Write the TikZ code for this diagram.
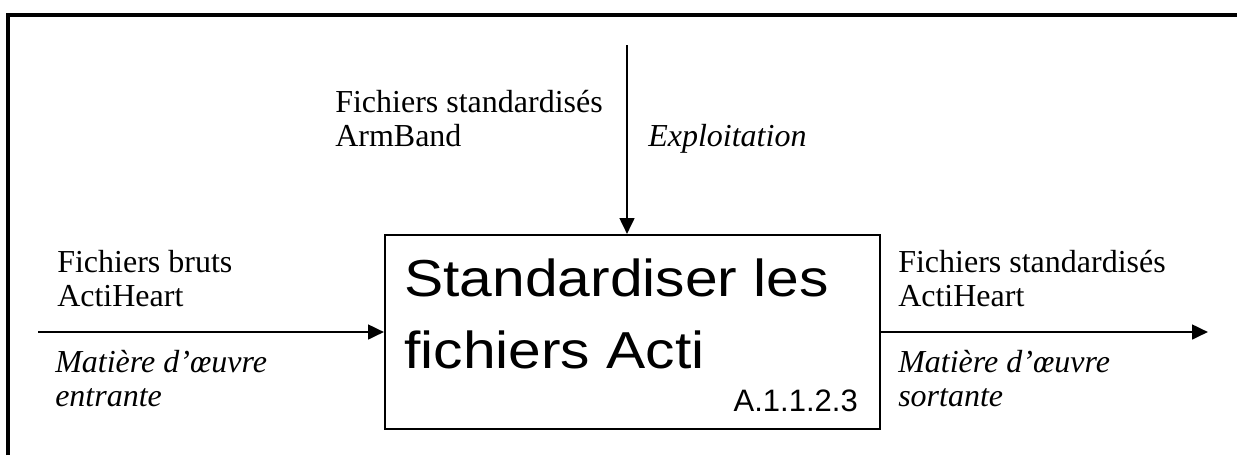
\documentclass[tikz,border=0pt]{standalone}
\usepackage{fontspec}
\setmainfont{Liberation Serif}
\newfontfamily\bigsans[FakeStretch=1.13]{Liberation Sans}
\newfontfamily\smallsans{Liberation Sans}
\usetikzlibrary{arrows.meta}
\usetikzlibrary{positioning}

\begin{document}
\begin{tikzpicture}[
    x=0.75pt, y=-0.75pt,
    frame/.style={line width=2.3pt}, % Style for the outer frame
    flow/.style={line width=2pt, -{Triangle[length=12pt, width=11pt]}}, % Style for the arrows
    proc/.style={draw, line width=1.5pt, minimum width=371.25pt, minimum height=145.5pt, inner sep=0pt}, % Style for the activity box
    lbl/.style={anchor=base west, align=left, inner sep=0pt, font=\fontsize{24pt}{25.5pt}\selectfont}, % Style for the arrow labels
    role/.style={lbl, font=\fontsize{24pt}{25.5pt}\selectfont\itshape} % Style for the italic roles
]
\useasboundingbox (0,0) rectangle (1237,455);

% Frame
\draw[frame] (8,455) -- (8,15) -- (1237,15);

% Activity box (base anchors sit on the last line)
\node[proc] (proc) at (632.5,332) {};
\node[anchor=base west, align=left, inner sep=0pt, font=\bigsans\fontsize{39pt}{54pt}\selectfont] (title) at (404,368) {Standardiser les\\fichiers Acti};
\node[anchor=base east, inner sep=0pt, font=\smallsans\fontsize{23.25pt}{28pt}\selectfont] (code) at (858,411) {A.1.1.2.3};

% Define coordinates for the free arrow ends
\coordinate (ctl) at (627,45);
\coordinate (inL) at (38,332);
\coordinate (outR) at (1208,332);

% --- Arrows ---
\draw[flow] (ctl) -- (ctl |- proc.north);
\draw[flow] (inL) -- (proc.west);
\draw[flow] (proc.east) -- (outR);

% --- Labels ---
\node[lbl] (armband) at (335,146) {Fichiers standardisés\\ArmBand};
\node[role] (exploit) at (648,146) {Exploitation};
\node[lbl] (inText) at (57,306) {Fichiers bruts\\ActiHeart};
\node[role] (inRole) at (55,406) {Matière d’œuvre\\entrante};
\node[lbl] (outText) at (898,306) {Fichiers standardisés\\ActiHeart};
\node[role] (outRole) at (898,406) {Matière d’œuvre\\sortante};

\end{tikzpicture}
\end{document}
